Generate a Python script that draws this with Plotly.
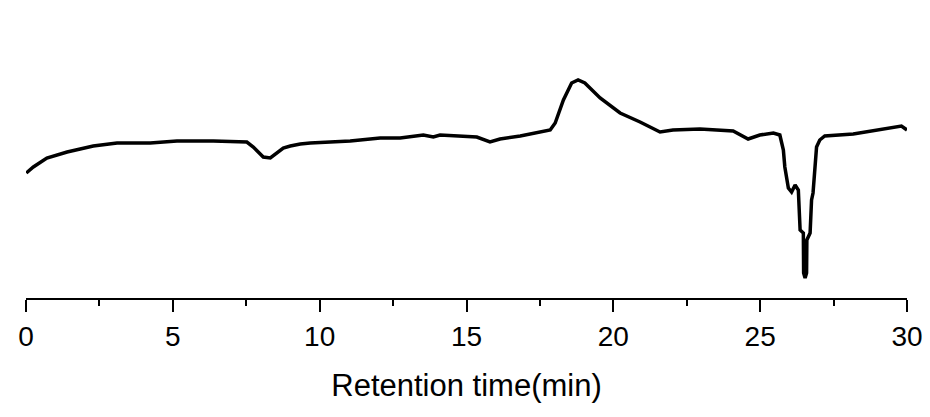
import plotly.graph_objects as go

# Retention time (min)
time_min = [0.01, 0.25, 0.71, 1.40, 2.29, 3.10, 4.23, 5.14, 6.38, 7.52, 7.74, 8.08, 8.32, 8.76, 9.00, 9.34,
            9.68, 11.04, 12.06, 12.74, 13.53, 13.87, 14.10, 15.01, 15.35, 15.80, 16.14, 16.83, 17.85,
            18.02, 18.30, 18.58, 18.80, 19.03, 19.55, 20.23, 20.91, 21.59, 22.03, 22.95, 23.63, 24.08,
            24.59, 24.99, 25.45, 25.67, 25.79, 25.84, 25.96, 26.07, 26.19, 26.30, 26.36, 26.47, 26.48,
            26.53, 26.58, 26.59, 26.70, 26.75, 26.80, 26.86, 26.92, 27.03, 27.20, 28.17, 29.08, 29.81, 30.0]
# Detector signal (arbitrary units)
signal = [125, 131, 140, 146, 152, 155, 155, 157, 157, 156, 151, 141, 140, 150, 152, 154,
          155, 157, 160, 160, 163, 161, 163, 162, 161, 156, 159, 162, 168,
          175, 198, 215, 218, 215, 200, 185, 176, 166, 168, 169, 168, 167,
          159, 163, 165, 163, 148, 131, 110, 106, 113, 108, 68, 65, 25,
          20, 25, 58, 65, 98, 105, 131, 151, 158, 162, 164, 168, 172, 168]

x_ticks = [0, 5, 10, 15, 20, 25, 30]
x_title = "Retention time(min)"

fig = go.Figure()
fig.add_trace(go.Scatter(x=time_min, y=signal, mode="lines",
                         line=dict(color="black", width=3.5), hoverinfo="skip", cliponaxis=False))

fig.update_layout(
    width=930, height=417,
    margin=dict(l=26, r=23, t=0, b=119, autoexpand=False),
    paper_bgcolor="white", plot_bgcolor="white",
    showlegend=False,
    font=dict(family="Liberation Sans, Arial, sans-serif", color="black"),
)
fig.update_xaxes(
    range=[0, 30], tickvals=x_ticks, ticktext=[str(v) for v in x_ticks],
    showline=True, linecolor="black", linewidth=2,
    ticks="outside", ticklen=12, tickwidth=2, tickcolor="black",
    minor=dict(tickvals=[2.5, 7.5, 12.5, 17.5, 22.5, 27.5], ticks="outside", ticklen=6, tickwidth=2, tickcolor="black"),
    showgrid=False, zeroline=False, automargin=False,
    tickfont=dict(size=28), ticklabelstandoff=0,
    title=dict(text=x_title, font=dict(size=31), standoff=24),
)
fig.update_yaxes(range=[0, 298], visible=False, showgrid=False, zeroline=False, automargin=False)

fig.write_html("out.html", config={"displayModeBar": False, "staticPlot": True},
               post_script="document.body.style.margin='0';document.body.style.overflow='hidden';")
